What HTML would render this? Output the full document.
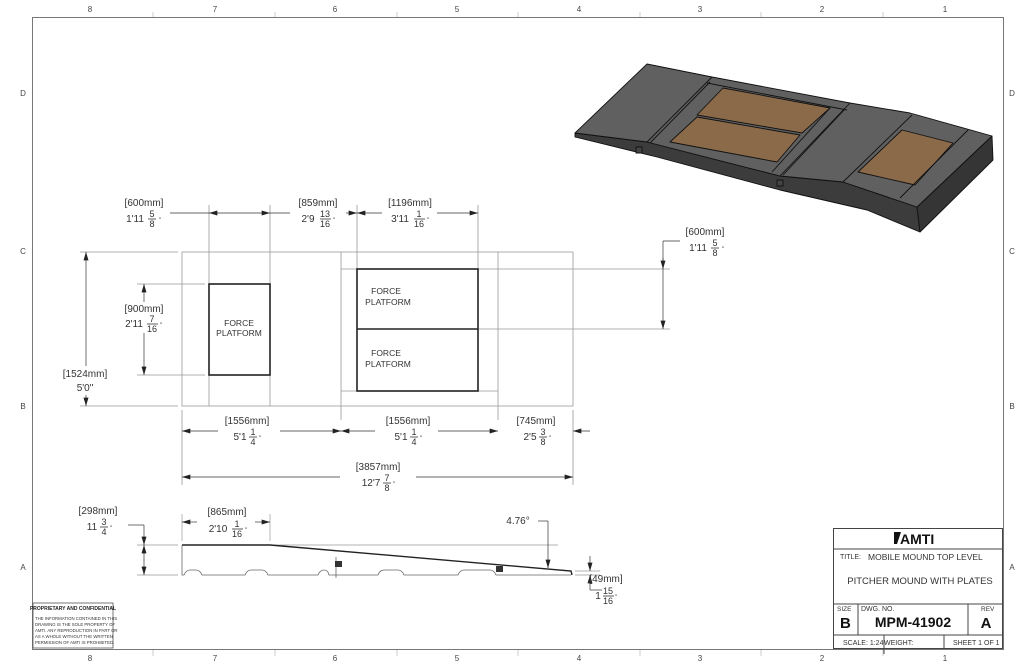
<!DOCTYPE html>
<html><head><meta charset="utf-8"><style>
html,body{margin:0;padding:0;background:#fff;}
svg{display:block;font-family:"Liberation Sans",sans-serif;}
.t{font-size:10px;fill:#333;}
.f{font-size:8.5px;fill:#333;}
.s{font-size:8px;fill:#444;}
</style></head><body>
<svg width="1024" height="668" viewBox="0 0 1024 668" xmlns="http://www.w3.org/2000/svg">
<defs>
<marker id="a" viewBox="0 0 10 6" refX="10" refY="3" markerWidth="9" markerHeight="5" orient="auto-start-reverse" markerUnits="userSpaceOnUse"><path d="M0,0L10,3L0,6z" fill="#222"/></marker>
</defs>
<!-- border -->
<rect x="32.5" y="17.5" width="971" height="632" fill="none" stroke="#777" stroke-width="1"/>
<g class="s" text-anchor="middle">
<text x="90" y="12">8</text><text x="215" y="12">7</text><text x="335" y="12">6</text><text x="457" y="12">5</text><text x="579" y="12">4</text><text x="700" y="12">3</text><text x="822" y="12">2</text><text x="945" y="12">1</text>
<text x="90" y="661">8</text><text x="215" y="661">7</text><text x="335" y="661">6</text><text x="457" y="661">5</text><text x="579" y="661">4</text><text x="700" y="661">3</text><text x="822" y="661">2</text><text x="945" y="661">1</text>
<text x="23" y="96">D</text><text x="23" y="254">C</text><text x="23" y="409">B</text><text x="23" y="570">A</text>
<text x="1012" y="96">D</text><text x="1012" y="254">C</text><text x="1012" y="409">B</text><text x="1012" y="570">A</text>
</g>
<g stroke="#ccc" stroke-width="1">
<line x1="153" y1="12" x2="153" y2="17"/><line x1="275" y1="12" x2="275" y2="17"/><line x1="397" y1="12" x2="397" y2="17"/><line x1="518" y1="12" x2="518" y2="17"/><line x1="640" y1="12" x2="640" y2="17"/><line x1="761" y1="12" x2="761" y2="17"/><line x1="883" y1="12" x2="883" y2="17"/>
<line x1="153" y1="650" x2="153" y2="656"/><line x1="275" y1="650" x2="275" y2="656"/><line x1="397" y1="650" x2="397" y2="656"/><line x1="518" y1="650" x2="518" y2="656"/><line x1="640" y1="650" x2="640" y2="656"/><line x1="761" y1="650" x2="761" y2="656"/><line x1="883" y1="650" x2="883" y2="656"/>
</g>

<!-- 3D view -->
<g stroke="#111" stroke-width="0.9" stroke-linejoin="round">
<path d="M575,133 L647,142 L780,176 L843,182 L917,207 L920,232 L867,210 L780,190 L657,157 L575,137 Z" fill="#3c3c3c"/>
<path d="M917,207 L992,136 L993,160 L920,232 Z" fill="#353535"/>
<path d="M575,133 L647,64 L712,77 L850,103 L910,113 L992,136 L917,207 L843,182 L780,176 L647,142 Z" fill="#606060"/>
<path d="M647,142 L712,77 M780,176 L850,103" fill="none"/>
<path d="M707,83 L847,110 M710,82 L650,143 M830,108 L772,172 M845,109 L783,175" fill="none"/>
<path d="M723,88 L830,108 L802,133 L697,115 Z" fill="#8b6a4a"/>
<path d="M697,117 L800,135 L777,162 L670,142 Z" fill="#8b6a4a"/>
<path d="M902,130 L953,143 L915,185 L858,172 Z" fill="#8b6a4a"/>
<path d="M912,115 L843,182 M968,130 L900,198" fill="none"/>
<rect x="636" y="147" width="6" height="6" fill="#444"/>
<rect x="777" y="180" width="6" height="6" fill="#444"/>
</g>

<!-- Top view -->
<g stroke="#999" stroke-width="0.8" fill="none">
<rect x="182" y="252" width="391" height="154"/>
<line x1="209" y1="205" x2="209" y2="406"/>
<line x1="270" y1="205" x2="270" y2="406"/>
<line x1="341" y1="252" x2="341" y2="420"/>
<line x1="498" y1="252" x2="498" y2="420"/>
<line x1="341" y1="269" x2="670" y2="269"/>
<line x1="341" y1="391" x2="498" y2="391"/>
<line x1="478" y1="329" x2="670" y2="329"/>
<line x1="357" y1="205" x2="357" y2="269"/>
<line x1="478" y1="205" x2="478" y2="269"/>
<line x1="137" y1="284" x2="205" y2="284"/>
<line x1="137" y1="375" x2="205" y2="375"/>
<line x1="80" y1="252" x2="178" y2="252"/>
<line x1="80" y1="406" x2="178" y2="406"/>
<line x1="182" y1="410" x2="182" y2="485"/>
<line x1="573" y1="410" x2="573" y2="485"/>
</g>
<g stroke="#222" stroke-width="1.6" fill="none">
<rect x="209" y="284" width="61" height="91"/>
<rect x="357" y="269" width="121" height="122"/>
<line x1="357" y1="329" x2="478" y2="329"/>
</g>
<g class="f" text-anchor="middle">
<text x="239" y="326">FORCE</text><text x="239" y="336">PLATFORM</text>
<text x="386" y="294">FORCE</text><text x="388" y="305">PLATFORM</text>
<text x="386" y="356">FORCE</text><text x="388" y="367">PLATFORM</text>
</g>

<!-- dimension lines -->
<g stroke="#333" stroke-width="0.7" fill="none">
<line x1="170" y1="213" x2="209" y2="213"/>
<line x1="209" y1="213" x2="270" y2="213" marker-start="url(#a)" marker-end="url(#a)"/>
<line x1="270" y1="213" x2="290" y2="213"/>
<line x1="346" y1="213" x2="357" y2="213" marker-end="url(#a)"/>
<line x1="357" y1="213" x2="382" y2="213" marker-start="url(#a)"/>
<line x1="437" y1="213" x2="478" y2="213" marker-end="url(#a)"/>
<line x1="144" y1="284" x2="144" y2="302" marker-start="url(#a)"/>
<line x1="144" y1="333" x2="144" y2="375" marker-end="url(#a)"/>
<line x1="86" y1="252" x2="86" y2="366" marker-start="url(#a)"/>
<line x1="86" y1="395" x2="86" y2="406" marker-end="url(#a)"/>
<line x1="663" y1="241" x2="663" y2="329" marker-end="url(#a)"/>
<line x1="663" y1="241" x2="680" y2="241"/>
<line x1="663" y1="258" x2="663" y2="269" marker-end="url(#a)"/>
<line x1="182" y1="431" x2="218" y2="431" marker-start="url(#a)"/>
<line x1="280" y1="431" x2="341" y2="431" marker-end="url(#a)"/>
<line x1="341" y1="431" x2="375" y2="431" marker-start="url(#a)"/>
<line x1="438" y1="431" x2="498" y2="431" marker-end="url(#a)"/>
<line x1="573" y1="431" x2="590" y2="431" marker-start="url(#a)"/>
<line x1="182" y1="477" x2="340" y2="477" marker-start="url(#a)"/>
<line x1="416" y1="477" x2="573" y2="477" marker-end="url(#a)"/>
</g>
<g class="t" text-anchor="middle">
<text x="144" y="206">[600mm]</text><text x="135" y="222">1'11</text><text x="152" y="217" font-size="9">5</text><text x="152" y="227" font-size="9">8</text><text x="160" y="222" font-size="6">"</text>
<text x="318" y="206">[859mm]</text><text x="308" y="222">2'9</text><text x="325" y="217" font-size="9">13</text><text x="325" y="227" font-size="9">16</text><text x="334" y="222" font-size="6">"</text>
<text x="410" y="206">[1196mm]</text><text x="400" y="222">3'11</text><text x="419" y="217" font-size="9">1</text><text x="419" y="227" font-size="9">16</text><text x="428" y="222" font-size="6">"</text>
<text x="144" y="312">[900mm]</text><text x="134" y="327">2'11</text><text x="152" y="322" font-size="9">7</text><text x="152" y="332" font-size="9">16</text><text x="161" y="327" font-size="6">"</text>
<text x="85" y="377">[1524mm]</text><text x="85" y="391">5'0"</text>
<text x="705" y="235">[600mm]</text><text x="698" y="251">1'11</text><text x="715" y="246" font-size="9">5</text><text x="715" y="256" font-size="9">8</text><text x="723" y="251" font-size="6">"</text>
<text x="247" y="424">[1556mm]</text><text x="240" y="440">5'1</text><text x="253" y="435" font-size="9">1</text><text x="253" y="445" font-size="9">4</text><text x="260" y="440" font-size="6">"</text>
<text x="408" y="424">[1556mm]</text><text x="401" y="440">5'1</text><text x="414" y="435" font-size="9">1</text><text x="414" y="445" font-size="9">4</text><text x="421" y="440" font-size="6">"</text>
<text x="536" y="424">[745mm]</text><text x="530" y="440">2'5</text><text x="543" y="435" font-size="9">3</text><text x="543" y="445" font-size="9">8</text><text x="550" y="440" font-size="6">"</text>
<text x="378" y="470">[3857mm]</text><text x="371" y="486">12'7</text><text x="387" y="481" font-size="9">7</text><text x="387" y="491" font-size="9">8</text><text x="394" y="486" font-size="6">"</text>
</g>
<g stroke="#333" stroke-width="0.8">
<line x1="148" y1="219" x2="156" y2="219"/><line x1="320" y1="219" x2="331" y2="219"/><line x1="414" y1="219" x2="425" y2="219"/>
<line x1="147" y1="324" x2="158" y2="324"/><line x1="711" y1="248" x2="719" y2="248"/>
<line x1="249" y1="437" x2="257" y2="437"/><line x1="410" y1="437" x2="418" y2="437"/><line x1="539" y1="437" x2="547" y2="437"/><line x1="383" y1="483" x2="391" y2="483"/>
</g>

<!-- Side view -->
<g stroke="#999" stroke-width="0.7" fill="none">
<line x1="137" y1="545" x2="178" y2="545"/>
<line x1="137" y1="575" x2="178" y2="575"/>
<line x1="270" y1="545" x2="558" y2="545"/>
<line x1="182" y1="514" x2="182" y2="541"/>
<line x1="270" y1="514" x2="270" y2="541"/>
<line x1="575" y1="571" x2="600" y2="571"/>
<line x1="575" y1="575" x2="600" y2="575"/>
</g>
<path d="M182,545 L270,545 L571,571 L572,575" fill="none" stroke="#222" stroke-width="1.4"/>
<path d="M182,545 L182,575 L184,575 Q186,570 190,570 L196,570 Q200,570 202,575 L245,575 Q247,570 251,570 L262,570 Q266,570 268,575 L318,575 Q320,570 324,570 Q328,570 329,575 L344,575 L350,575 L378,575 Q380,570 384,570 L398,570 Q402,570 404,575 L458,575 Q460,570 464,570 L490,570 Q494,570 496,575 L571,575" fill="none" stroke="#666" stroke-width="0.8"/>
<line x1="336" y1="557" x2="336" y2="578" stroke="#555" stroke-width="0.7"/>
<rect x="335" y="561" width="7" height="6" fill="#333"/>
<rect x="496" y="566" width="7" height="6" fill="#333"/>
<g stroke="#333" stroke-width="0.7" fill="none">
<line x1="128" y1="525" x2="144" y2="525"/>
<line x1="144" y1="525" x2="144" y2="545" marker-end="url(#a)"/>
<line x1="144" y1="545" x2="144" y2="575" marker-start="url(#a)" marker-end="url(#a)"/>
<line x1="182" y1="522" x2="197" y2="522" marker-start="url(#a)"/>
<line x1="255" y1="522" x2="270" y2="522" marker-end="url(#a)"/>
<line x1="538" y1="521" x2="548" y2="521"/>
<line x1="548" y1="521" x2="548" y2="568" marker-end="url(#a)"/>
<line x1="590" y1="556" x2="590" y2="571" marker-end="url(#a)"/>
<line x1="590" y1="590" x2="590" y2="575" marker-end="url(#a)"/>
<line x1="590" y1="590" x2="602" y2="590"/>
</g>
<g class="t" text-anchor="middle">
<text x="98" y="514">[298mm]</text><text x="92" y="530">11</text><text x="104" y="525" font-size="9">3</text><text x="104" y="535" font-size="9">4</text><text x="111" y="530" font-size="6">"</text>
<text x="227" y="515">[865mm]</text><text x="218" y="532">2'10</text><text x="237" y="527" font-size="9">1</text><text x="237" y="537" font-size="9">16</text><text x="246" y="532" font-size="6">"</text>
<text x="518" y="524">4.76°</text>
<text x="606" y="582">[49mm]</text><text x="598" y="599">1</text><text x="608" y="594" font-size="9">15</text><text x="608" y="604" font-size="9">16</text><text x="616" y="599" font-size="6">"</text>
</g>
<g stroke="#333" stroke-width="0.8">
<line x1="100" y1="527" x2="108" y2="527"/><line x1="232" y1="529" x2="243" y2="529"/><line x1="603" y1="596" x2="614" y2="596"/>
</g>

<!-- Proprietary box -->
<rect x="33" y="603" width="80" height="45" fill="none" stroke="#555" stroke-width="0.8"/>
<text x="73" y="610" font-size="5" font-weight="bold" fill="#222" text-anchor="middle">PROPRIETARY AND CONFIDENTIAL</text>
<g font-size="4.3" fill="#333">
<text x="35" y="620">THE INFORMATION CONTAINED IN THIS</text>
<text x="35" y="626">DRAWING IS THE SOLE PROPERTY OF</text>
<text x="35" y="632">AMTI.  ANY REPRODUCTION IN PART OR</text>
<text x="35" y="638">AS A WHOLE WITHOUT THE WRITTEN</text>
<text x="35" y="644">PERMISSION OF AMTI IS PROHIBITED.</text>
</g>

<!-- Title block -->
<g stroke="#444" stroke-width="1" fill="none">
<rect x="833.5" y="528.5" width="169" height="120"/>
<line x1="833" y1="549" x2="1003" y2="549"/>
<line x1="833" y1="604" x2="1003" y2="604"/>
<line x1="833" y1="635" x2="1003" y2="635"/>
<line x1="858" y1="604" x2="858" y2="635"/>
<line x1="968" y1="604" x2="968" y2="635"/>
<line x1="884" y1="635" x2="884" y2="654"/>
<line x1="944" y1="635" x2="944" y2="649"/>
</g>
<path d="M894,532 L901,532 L897,544 L894,544 Z" fill="#111"/>
<text x="900" y="544" font-size="14" font-weight="bold" fill="#111">AMTI</text>
<text x="840" y="559" font-size="7" fill="#333">TITLE:</text>
<text x="868" y="560" font-size="8.5" fill="#333">MOBILE MOUND TOP LEVEL</text>
<text x="920" y="584" font-size="9.5" fill="#333" text-anchor="middle">PITCHER MOUND WITH PLATES</text>
<text x="837" y="611" font-size="6.5" fill="#333">SIZE</text>
<text x="861" y="611" font-size="7" fill="#333">DWG.  NO.</text>
<text x="981" y="611" font-size="6.5" fill="#333">REV</text>
<text x="840" y="628" font-size="15" font-weight="bold" fill="#111">B</text>
<text x="913" y="627" font-size="14" font-weight="bold" fill="#111" text-anchor="middle">MPM-41902</text>
<text x="986" y="628" font-size="15" font-weight="bold" fill="#111" text-anchor="middle">A</text>
<text x="843" y="645" font-size="7" fill="#333">SCALE: 1:24</text>
<text x="884" y="645" font-size="7" fill="#333">WEIGHT:</text>
<text x="953" y="645" font-size="7" fill="#333">SHEET 1 OF 1</text>
</svg>
</body></html>
